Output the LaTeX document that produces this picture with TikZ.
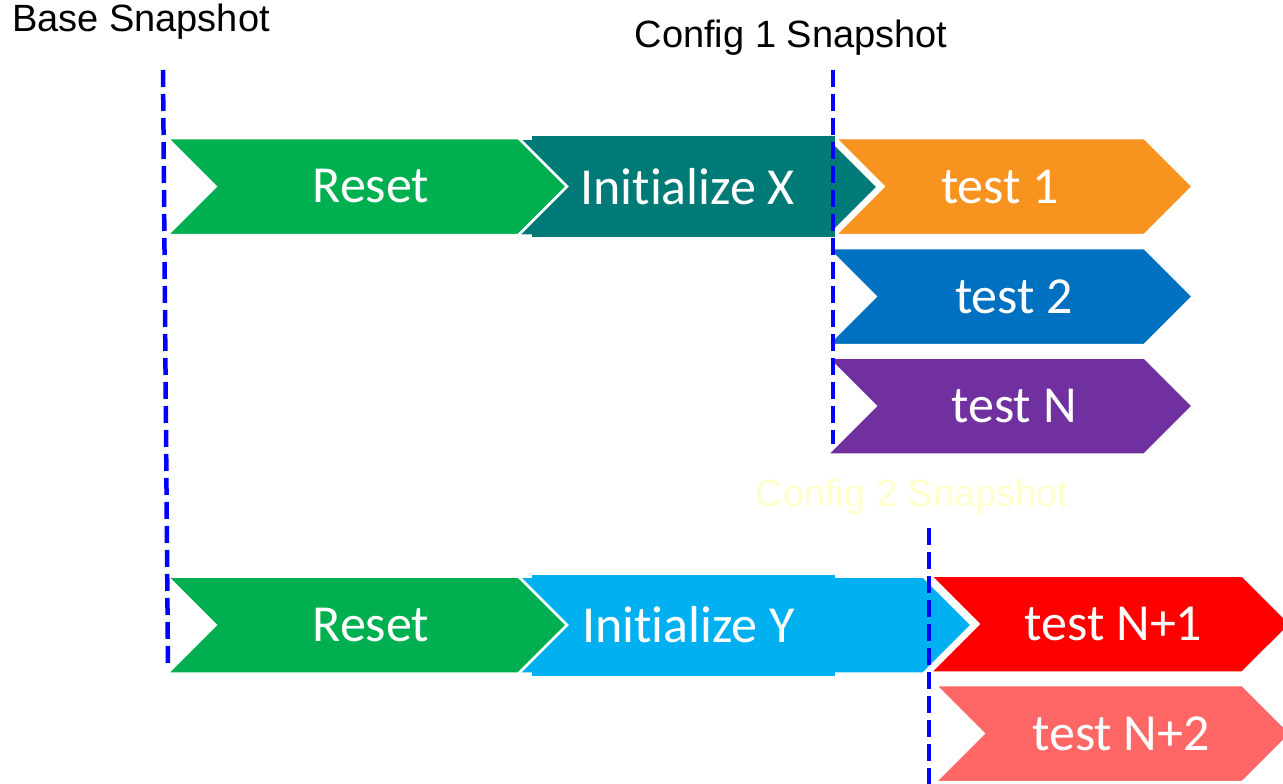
\documentclass[tikz,border=0pt]{standalone}
\usepackage{fontspec}
\setmainfont{Carlito}[Ligatures={NoCommon}]
\newfontfamily\labelfont{Liberation Sans}
\usetikzlibrary{shapes.symbols, positioning}

\definecolor{resetgreen}{HTML}{00B050}
\definecolor{initteal}{HTML}{007A77}
\definecolor{testorange}{HTML}{F7931E}
\definecolor{testblue}{HTML}{0070C0}
\definecolor{testpurple}{HTML}{7030A0}
\definecolor{initcyan}{HTML}{00B0F0}
\definecolor{testred}{HTML}{FF0000}
\definecolor{testpink}{HTML}{FF6666}
\definecolor{snapblue}{HTML}{0000FF}
\definecolor{faintyellow}{HTML}{FFFFCC}

\begin{document}
\begin{tikzpicture}[
    x=1pt, y=-1pt,
    chevron/.style={
        shape=signal,
        signal from=west,
        signal to=east,
        signal pointer angle=90,
        draw=white,
        line width=2.5pt,
        inner sep=0pt,
        minimum height=97pt
    },
    steptext/.style={
        text=white,
        font=\fontsize{52}{60}\selectfont
    },
    snapline/.style={
        snapblue,
        line width=4.5pt,
        dash pattern=on 17pt off 7pt
    },
    snaplabel/.style={
        font=\labelfont\fontsize{38}{45}\selectfont
    }
]
\useasboundingbox (0,0) rectangle (1283,784);

% config 1 branch
\node[chevron, fill=testpurple, minimum width=366pt] (testN) at (1010,406) {};
\node[chevron, fill=testblue, minimum width=366pt] (test2) at (1010,296.5) {};
\node[chevron, fill=testorange, minimum width=358pt] (test1) at (1014,186.5) {};
\node[chevron, fill=initteal, minimum width=361pt] (initX) at (697.5,187) {};
\fill[initteal] (532,136) rectangle (835,237);
\node[chevron, fill=resetgreen, minimum width=400pt] (resetA) at (367,186.5) {};

% config 2 branch
\node[chevron, fill=testpink, minimum width=356pt] (testN2) at (1113,733.5) {};
\node[chevron, fill=testred, minimum width=361pt] (testN1) at (1110.5,624) {};
\node[chevron, fill=initcyan, minimum width=455pt] (initY) at (744.5,625) {};
\fill[initcyan] (532,575) rectangle (835,676);
\node[chevron, fill=resetgreen, minimum width=400pt] (resetB) at (367,625) {};

% step names
\node[steptext] (lResetA) at ([xshift=4pt]resetA.center) {Reset};
\node[steptext] (lInitX) at ([xshift=-10pt]initX.center) {Initialize X};
\node[steptext] (lTest1) at ([xshift=-14pt]test1.center) {test 1};
\node[steptext] (lTest2) at ([xshift=4pt]test2.center) {test 2};
\node[steptext] (lTestN) at ([xshift=4pt]testN.center) {test N};
\node[steptext] (lResetB) at ([xshift=4pt]resetB.center) {Reset};
\node[steptext] (lInitY) at ([xshift=-56pt]initY.center) {Initialize Y};
\node[steptext] (lTestN1) at ([xshift=3pt]testN1.center) {test N+1};
\node[steptext] (lTestN2) at ([xshift=8pt]testN2.center) {test N+2};

% snapshot markers
\coordinate (baseTop) at (163,70);
\coordinate (baseBot) at (168,668);
\coordinate (cfgATop) at (833,70);
\coordinate (cfgABot) at (833,444);
\coordinate (cfgBTop) at (929,528);
\coordinate (cfgBBot) at (929,784);
\draw[snapline] (baseTop) -- (baseBot);
\draw[snapline] (cfgATop) -- (cfgABot);
\draw[snapline] (cfgBTop) -- (cfgBBot);

\node[snaplabel] (baseSnap) at (141,22) {Base Snapshot};
\node[snaplabel] (cfgASnap) at (791,38) {Config 1 Snapshot};
\node[snaplabel, text=faintyellow] (cfgBSnap) at (912,497) {Config 2 Snapshot};
\end{tikzpicture}
\end{document}
